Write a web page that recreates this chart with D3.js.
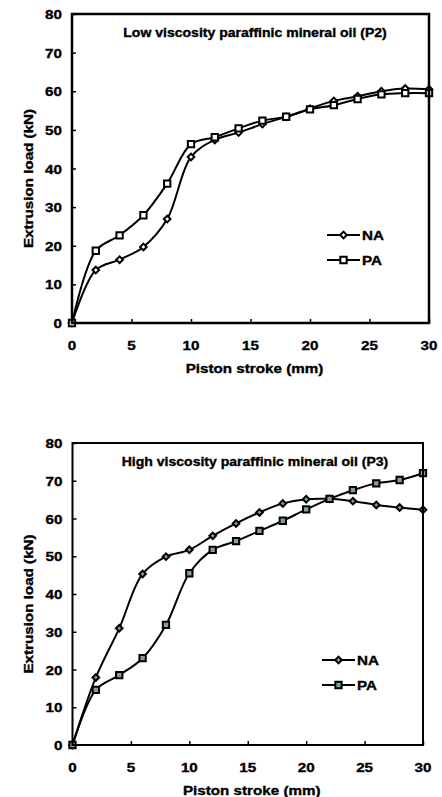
<!DOCTYPE html>
<html>
<head>
<meta charset="utf-8">
<script src="https://cdn.jsdelivr.net/npm/d3@7"></script>
<style>
  body { margin: 0; background: #fff; }
  text { font-family: "Liberation Sans", Arial, sans-serif; font-weight: bold; fill: #000; stroke: #000; stroke-width: 0.35px; }
</style>
</head>
<body>
<div id="chart"></div>
<script>
var stroke = [0, 2, 4, 6, 8, 10, 12, 14, 16, 18, 20, 22, 24, 26, 28, 30];
var xTicks = [0, 5, 10, 15, 20, 25, 30];
var yTicks = [0, 10, 20, 30, 40, 50, 60, 70, 80];

// P2 - low viscosity
var p2NA = [0, 13.7, 16.4, 19.7, 26.9, 43.0, 47.4, 49.3, 51.5, 53.4, 55.5, 57.5, 58.7, 60.0, 60.7, 60.5];
var p2PA = [0, 18.7, 22.7, 27.9, 36.1, 46.3, 48.1, 50.4, 52.4, 53.4, 55.3, 56.4, 58.0, 59.2, 59.5, 59.5];

// P3 - high viscosity
var p3NA = [0, 17.9, 30.9, 45.3, 49.9, 51.7, 55.4, 58.7, 61.6, 64.0, 65.1, 65.2, 64.6, 63.6, 62.9, 62.3];
var p3PA = [0, 14.6, 18.5, 23.0, 31.8, 45.5, 51.7, 54.0, 56.7, 59.4, 62.4, 65.2, 67.5, 69.3, 70.2, 72.0];

var svg = d3.select("#chart").append("svg")
  .attr("width", 442)
  .attr("height", 797);

// text in the source is a bit wider than Arial, stretch it
var stretch = 1.17;
function addText(g, x, y, str, size, anchor, rot) {
  return g.append("text")
    .attr("transform", "translate(" + x + "," + y + ")" + (rot ? " rotate(-90)" : "") + " scale(" + stretch + ",1)")
    .attr("text-anchor", anchor || "start")
    .attr("font-size", size)
    .text(str);
}

function drawPanel(opt) {
  var x = d3.scaleLinear().domain([0, 30]).range([opt.left, opt.right]);
  var y = d3.scaleLinear().domain([0, 80]).range([opt.bottom, opt.top]);
  var g = svg.append("g");

  // ticks (inside)
  g.append("g")
    .attr("transform", "translate(0," + opt.bottom + ")")
    .call(d3.axisBottom(x).tickValues(xTicks).tickSize(-4).tickFormat(""))
    .call(function(a) { a.select(".domain").remove(); a.selectAll("line").attr("stroke", "#000").attr("stroke-width", 1.5); });
  g.append("g")
    .attr("transform", "translate(" + opt.left + ",0)")
    .call(d3.axisLeft(y).tickValues(yTicks).tickSize(-4).tickFormat(""))
    .call(function(a) { a.select(".domain").remove(); a.selectAll("line").attr("stroke", "#000").attr("stroke-width", 1.5); });

  // tick labels
  xTicks.forEach(function(d) {
    addText(g, x(d), opt.bottom + 27, d, 13, "middle");
  });
  yTicks.forEach(function(d) {
    addText(g, opt.left - 10, y(d) + 5, d, 13, "end");
  });

  // axis titles
  addText(g, (opt.left + opt.right) / 2 + 4, opt.bottom + 50, "Piston stroke (mm)", 13, "middle");
  addText(g, 33, (opt.top + opt.bottom) / 2 + 10, "Extrusion load (kN)", 13, "middle", true);

  // chart title
  addText(g, 255, opt.top + 23, opt.title, 12, "middle");

  var line = d3.line()
    .x(function(d, i) { return x(stroke[i]); })
    .y(function(d) { return y(d); })
    .curve(d3.curveCatmullRom.alpha(0.5));

  var series = [
    { name: "NA", values: opt.na, size: 22, rot: 45 },
    { name: "PA", values: opt.pa, size: 40, rot: 0 }
  ];

  series.forEach(function(s) {
    g.append("path")
      .attr("d", line(s.values))
      .attr("fill", "none")
      .attr("stroke", "#000")
      .attr("stroke-width", 2);
  });

  series.forEach(function(s) {
    g.selectAll(".m" + s.name).data(s.values).enter().append("path")
      .attr("d", d3.symbol().type(d3.symbolSquare).size(s.size))
      .attr("transform", function(d, i) { return "translate(" + x(stroke[i]) + "," + y(d) + ") rotate(" + s.rot + ")"; })
      .attr("fill", opt.markerFill)
      .attr("stroke", "#000")
      .attr("stroke-width", 2);
  });

  // frame
  g.append("rect")
    .attr("x", opt.left)
    .attr("y", opt.top)
    .attr("width", opt.right - opt.left)
    .attr("height", opt.bottom - opt.top)
    .attr("fill", "none")
    .attr("stroke", "#000")
    .attr("stroke-width", opt.frameWidth);

  // legend
  series.forEach(function(s, i) {
    var ly = opt.legendY + i * 25;
    g.append("line")
      .attr("x1", opt.legendX)
      .attr("x2", opt.legendX + 33)
      .attr("y1", ly)
      .attr("y2", ly)
      .attr("stroke", "#000")
      .attr("stroke-width", 2);
    g.append("path")
      .attr("d", d3.symbol().type(d3.symbolSquare).size(s.size))
      .attr("transform", "translate(" + (opt.legendX + 16.5) + "," + ly + ") rotate(" + s.rot + ")")
      .attr("fill", opt.markerFill)
      .attr("stroke", "#000")
      .attr("stroke-width", 2);
    addText(g, opt.legendX + 35, ly + 5, s.name, 13, "start");
  });
}

drawPanel({
  left: 72, right: 429, top: 14, bottom: 323,
  title: "Low viscosity paraffinic mineral oil (P2)",
  na: p2NA, pa: p2PA, markerFill: "#fff", frameWidth: 2.5,
  legendX: 327, legendY: 235
});

drawPanel({
  left: 72.5, right: 423, top: 443, bottom: 745,
  title: "High viscosity paraffinic mineral oil (P3)",
  na: p3NA, pa: p3PA, markerFill: "#7f9ea5", frameWidth: 2,
  legendX: 322, legendY: 660
});
</script>
</body>
</html>
